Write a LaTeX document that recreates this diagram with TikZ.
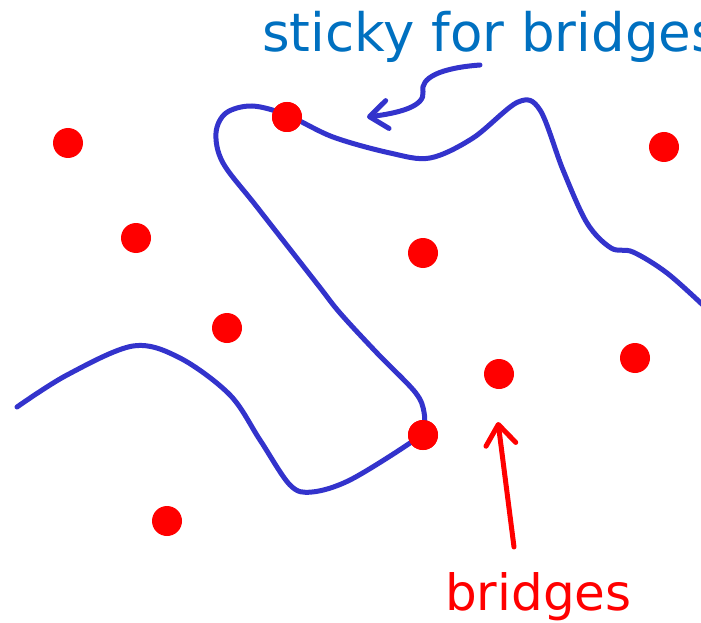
\documentclass[tikz,border=0pt]{standalone}
\usepackage{fontspec}
\setmainfont{DejaVu Sans}
\usetikzlibrary{arrows.meta}
\definecolor{wire}{RGB}{51,51,204}
\definecolor{notecol}{RGB}{0,112,192}
\definecolor{bridgered}{RGB}{255,0,0}
\tikzset{
  site/.style={circle, fill=bridgered, minimum size=30bp, inner sep=0pt},
  wireline/.style={draw=wire, line width=5bp, line cap=round, line join=round},
  note/.style={inner sep=0pt, anchor=base west},
}
\begin{document}
\begin{tikzpicture}[x=1bp, y=-1bp]
\useasboundingbox (0,0) rectangle (701,623);

% red sites
\node[site] (s1) at (68,143) {};
\node[site] (s2) at (136,238) {};
\node[site] (s3) at (227,328) {};
\node[site] (s4) at (287,117) {};
\node[site] (s5) at (423,253) {};
\node[site] (s6) at (664,147) {};
\node[site] (s7) at (635,358) {};
\node[site] (s8) at (499,374) {};
\node[site] (s9) at (423,435) {};
\node[site] (s10) at (167,521) {};

% the winding wire
\draw[wireline] plot[smooth, tension=0.55] coordinates {
  (17,407) (67,375) (133,346) (180,358) (230,395) (260,440) (290,485)
  (312,492) (350,480) (410,443) (423,430) (424,412) (415,392) (377,353)
  (340,313) (318,285) (257,207) (223,163) (216,133) (226,113) (252,106)
  (287,115) (333,137) (390,153) (430,158) (473,138) (518,102) (540,110)
  (563,170) (587,223) (611,248) (633,252) (667,273) (705,307)};

% the two sites that sit on the wire go on top of it
\node[site] at (s4) {};
\node[site] at (s9) {};

% labels
\node[note, text=notecol, font=\fontsize{53bp}{60bp}\selectfont] (sticky) at (262,52) {sticky for bridges};
\node[note, text=bridgered, font=\fontsize{50bp}{56bp}\selectfont] (brlabel) at (445,610) {bridges};

% pointer to the wire
\coordinate (stickytip) at (367,117);
\coordinate (stickytail) at (480,65);
\draw[wireline, -{Straight Barb[length=18bp, width=28bp, line width=5bp, round]}]
  (stickytail) .. controls (440,68) and (420,78) .. (423,92)
  .. controls (425,106) and (400,113) .. (stickytip);

% pointer to the bridges
\coordinate (brtip) at (498,422);
\coordinate (brtail) at (514,547);
\draw[draw=bridgered, line width=5bp, line cap=round,
  -{Straight Barb[length=20bp, width=30bp, line width=5bp, round]}]
  (brtail) -- (brtip);
\end{tikzpicture}
\end{document}
